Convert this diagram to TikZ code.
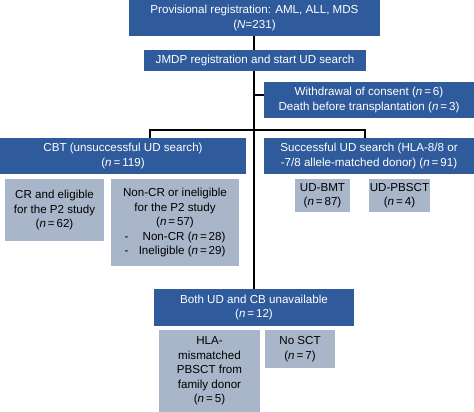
\documentclass[tikz,border=0pt]{standalone}
\usepackage{fontspec}
\setmainfont{Liberation Sans}
\usetikzlibrary{positioning}
\definecolor{boxblue}{HTML}{2F5B9D}
\definecolor{boxgrey}{HTML}{A9B5C8}
\tikzset{
  bluebox/.style={fill=boxblue,text=white,inner sep=0pt,align=center,
    font=\fontsize{11.6}{14.5}\selectfont},
  greybox/.style={fill=boxgrey,text=black,inner sep=0pt,align=center,
    font=\fontsize{11.6}{14.5}\selectfont},
  link/.style={draw=black,line width=1.1pt}
}
\newcommand{\nn}[1]{(\textit{n}\,=\,#1)}
\begin{document}
\begin{tikzpicture}[x=1pt,y=-1pt]
\useasboundingbox (0,0) rectangle (474,412);
% blue boxes
\node[bluebox,minimum width=251pt,minimum height=36pt] (prov) at (254.5,18)
  {Provisional registration: AML, ALL, MDS\\(\textit{N}=231)};
\node[bluebox,minimum width=222pt,minimum height=21pt] (jmdp) at (255,60.5)
  {JMDP registration and start UD search};
\node[bluebox,minimum width=210pt,minimum height=36pt] (withdr) at (369,100)
  {Withdrawal of consent \nn{6}\\Death before transplantation \nn{3}};
\node[bluebox,minimum width=246pt,minimum height=36pt] (cbt) at (123,156)
  {CBT (unsuccessful UD search)\\\nn{119}};
\node[bluebox,minimum width=210pt,minimum height=36pt] (succ) at (369,156)
  {Successful UD search (HLA-8/8 or\\-7/8 allele-matched donor) \nn{91}};
\node[bluebox,minimum width=200pt,minimum height=37pt] (both) at (254,307.5)
  {Both UD and CB unavailable\\\nn{12}};
% grey boxes
\node[greybox,minimum width=99pt,minimum height=62pt] (cr) at (54.5,210)
  {CR and eligible\\for the P2 study\\\nn{62}};
\node[greybox,minimum width=128pt,minimum height=87pt] (noncr) at (175,222.5)
  {Non-CR or ineligible\\for the P2 study\\\nn{57}\\
   \makebox[101pt][l]{-\hfill Non-CR \nn{28}}\\
   \makebox[101pt][l]{-\hfill Ineligible \nn{29}}};
\node[greybox,minimum width=55pt,minimum height=33pt] (bmt) at (322.5,195.5)
  {UD-BMT\\\nn{87}};
\node[greybox,minimum width=61pt,minimum height=33pt] (pbsct) at (399.5,195.5)
  {UD-PBSCT\\\nn{4}};
\node[greybox,minimum width=101pt,minimum height=82pt] (hla) at (209.5,371)
  {HLA-\\mismatched\\PBSCT from\\family donor\\\nn{5}};
\node[greybox,minimum width=70pt,minimum height=38pt] (nosct) at (300,349)
  {No SCT\\\nn{7}};
% connectors
\coordinate (wd) at (254,95);
\coordinate (split) at (254,130);
\draw[link] (prov.south -| 254,0) -- (jmdp.north -| 254,0);
\draw[link] (jmdp.south -| 254,0) -- (both.north -| 254,0);
\draw[link] (wd) -- (wd -| withdr.west);
\draw[link] ([xshift=27pt]cbt.north) |- (split) -| ([xshift=-4pt]succ.north);
\end{tikzpicture}
\end{document}
